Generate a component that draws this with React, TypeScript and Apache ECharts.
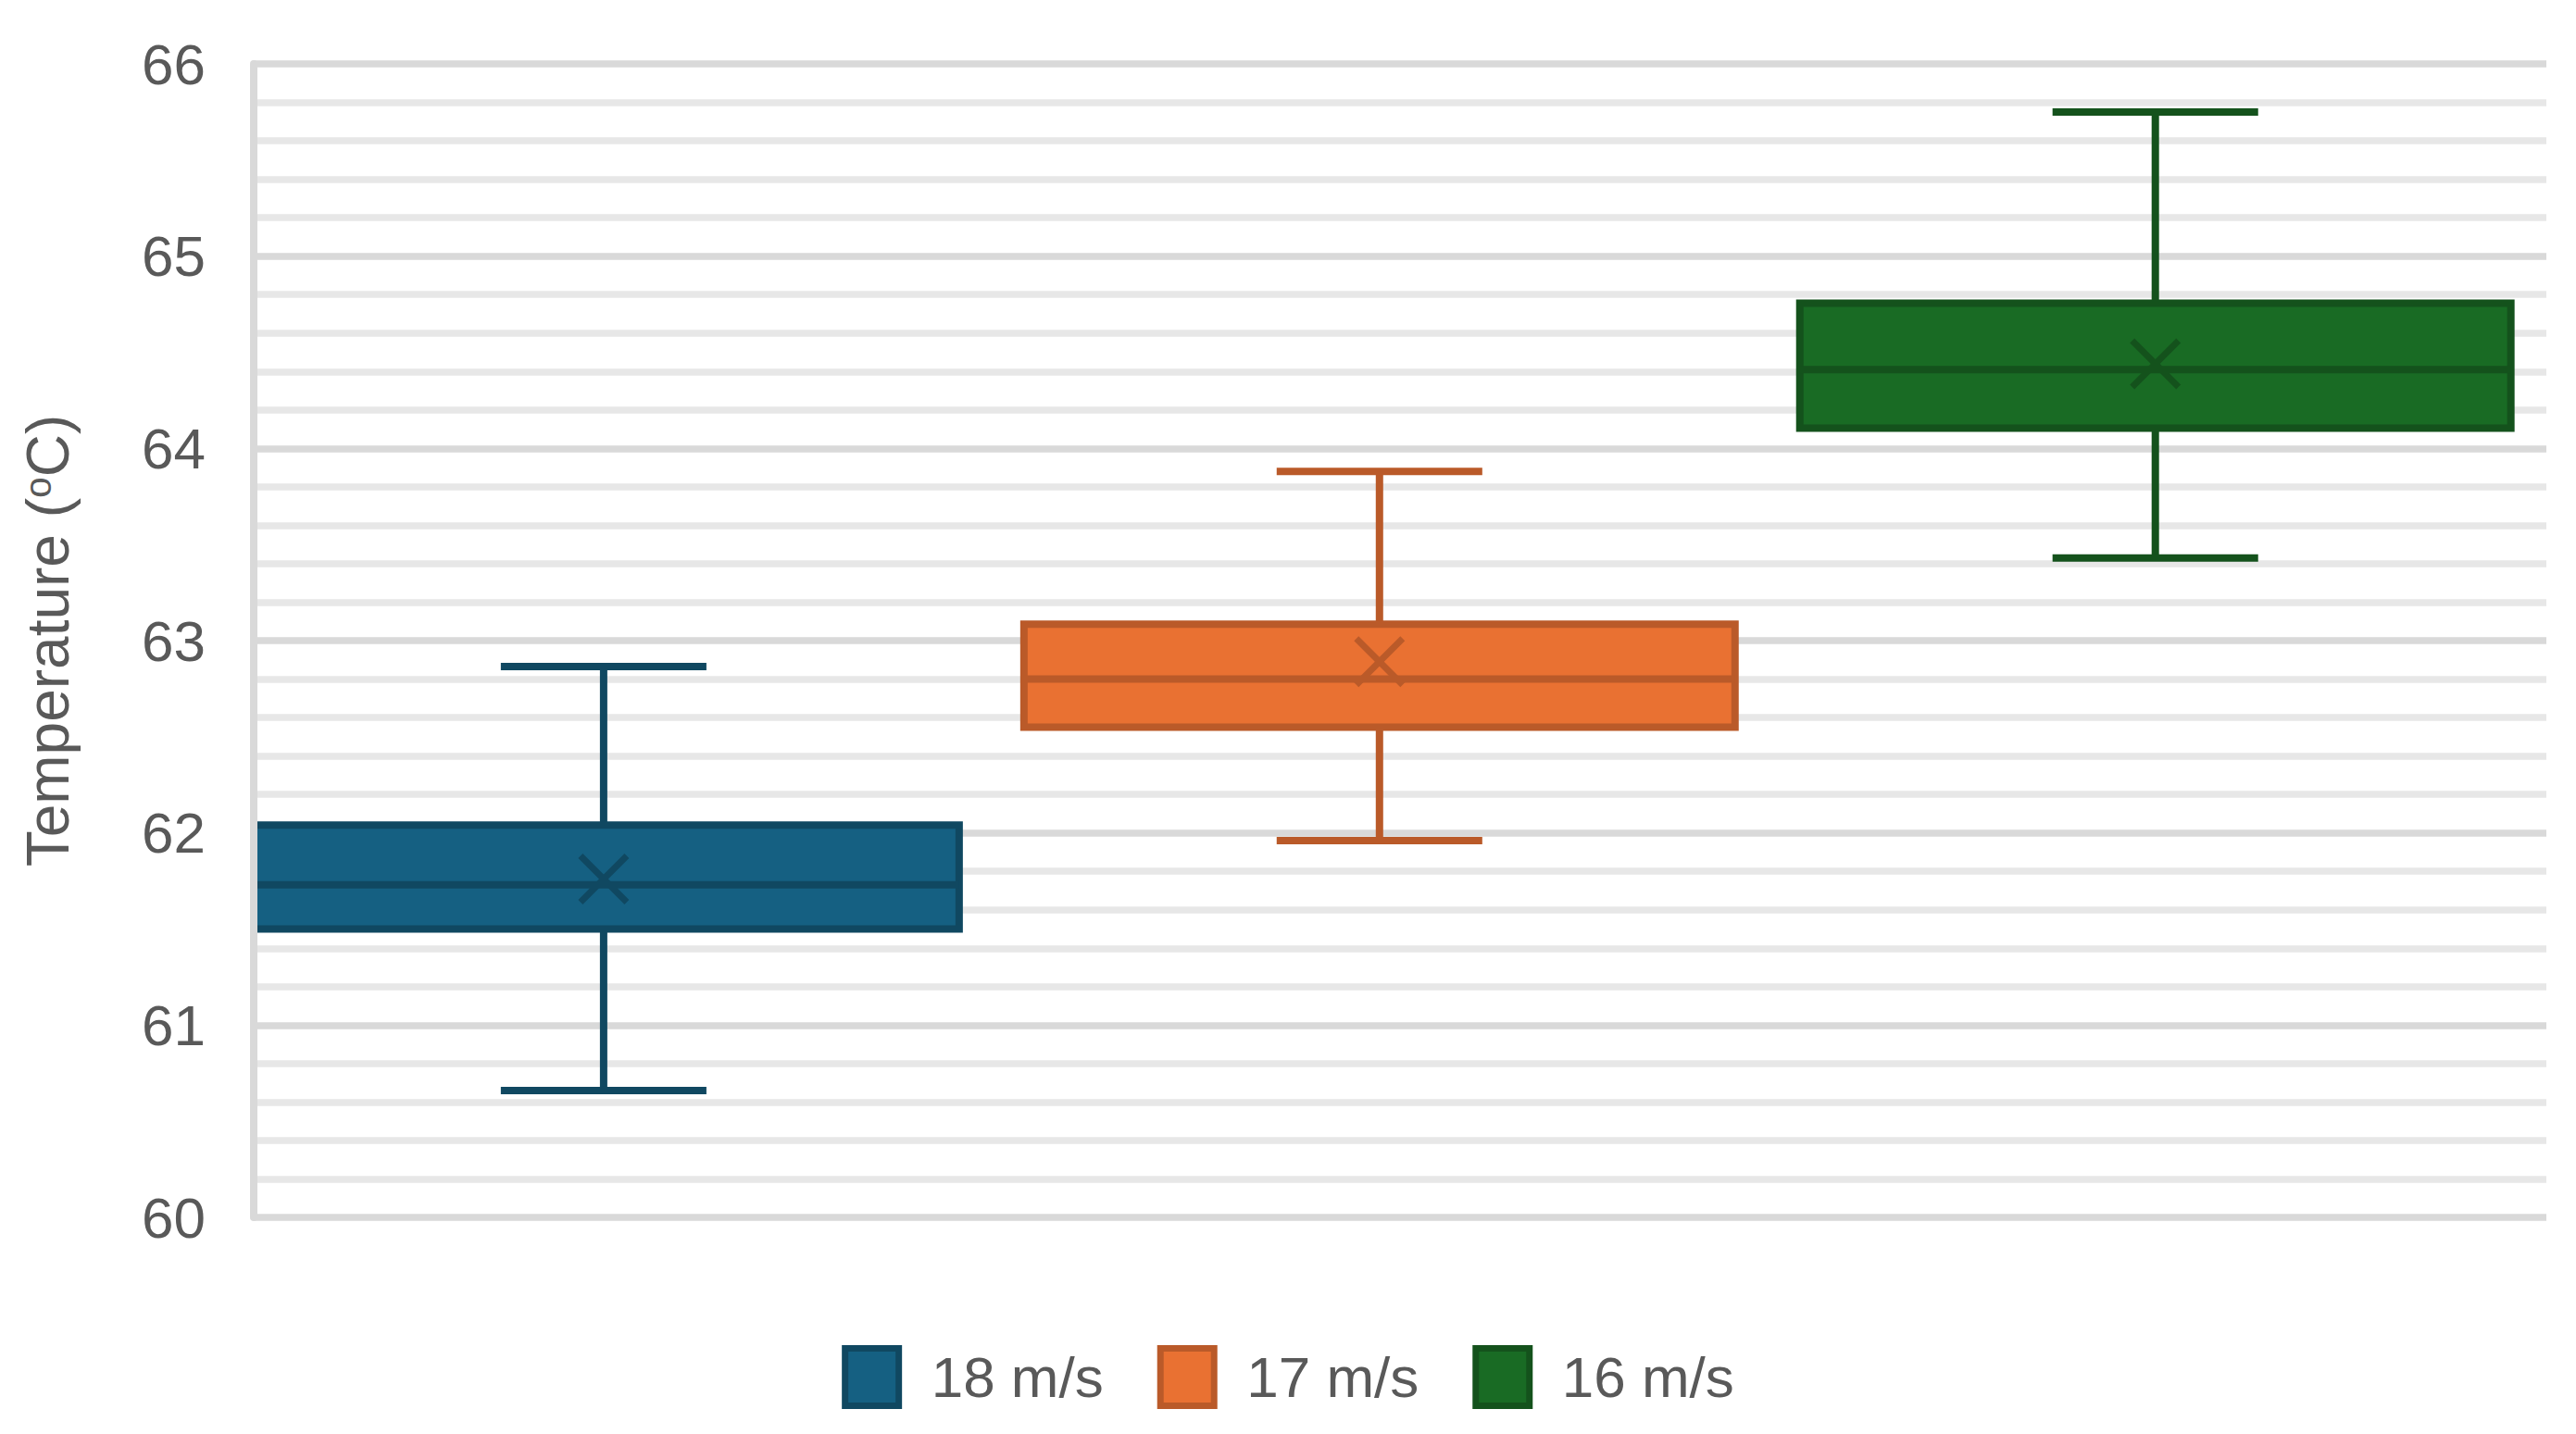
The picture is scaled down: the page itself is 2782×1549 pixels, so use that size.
import React, { useEffect, useRef } from "react";
import * as echarts from "echarts";

const categories = ["18 m/s", "17 m/s", "16 m/s"];
const whiskerMin = [60.66, 61.96, 63.43];
const quartile1 = [61.5, 62.55, 64.105];
const median = [61.73, 62.8, 64.41];
const quartile3 = [62.04, 63.085, 64.755];
const whiskerMax = [62.865, 63.88, 65.75];
const mean = [61.76, 62.89, 64.44];
const yTicks = [60, 61, 62, 63, 64, 65, 66];

const fillColors = ["#156082", "#E97132", "#196B24"];
const strokeColors = ["#104861", "#BA5A29", "#14521C"];

const FONT = "Liberation Sans";
const TEXT = "#595959";

export default function App() {
  const ref = useRef<HTMLDivElement>(null);
  useEffect(() => {
    document.body.style.margin = "0";
    const chart = echarts.init(ref.current!, null, { renderer: "svg" });
    const BOX_W = 0.9165;
    const CAP_W = 0.265;
    const LW = 8;

    const series = categories.map((name, i) => ({
      name,
      type: "custom",
      clip: true,
      itemStyle: { color: fillColors[i], borderColor: strokeColors[i] },
      data: [[i + 1, whiskerMin[i], quartile1[i], median[i], quartile3[i], whiskerMax[i], mean[i]]],
      encode: { x: 0, y: [1, 2, 3, 4, 5, 6] },
      renderItem: (params: any, api: any) => {
        const x = api.value(0);
        const pMin = api.coord([x, api.value(1)]);
        const pQ1 = api.coord([x, api.value(2)]);
        const pMed = api.coord([x, api.value(3)]);
        const pQ3 = api.coord([x, api.value(4)]);
        const pMax = api.coord([x, api.value(5)]);
        const pMean = api.coord([x, api.value(6)]);
        const bw = api.size([BOX_W, 0])[0];
        const cw = api.size([CAP_W, 0])[0];
        const cx = pMed[0];
        const stroke = strokeColors[i];
        const fill = fillColors[i];
        const ls = { stroke, lineWidth: LW, fill: "none" };
        const xs = 25;
        return {
          type: "group",
          children: [
            { type: "line", shape: { x1: cx, y1: pQ3[1], x2: cx, y2: pMax[1] }, style: ls },
            { type: "line", shape: { x1: cx, y1: pQ1[1], x2: cx, y2: pMin[1] }, style: ls },
            { type: "line", shape: { x1: cx - cw / 2, y1: pMax[1], x2: cx + cw / 2, y2: pMax[1] }, style: ls },
            { type: "line", shape: { x1: cx - cw / 2, y1: pMin[1], x2: cx + cw / 2, y2: pMin[1] }, style: ls },
            {
              type: "rect",
              shape: { x: cx - bw / 2, y: pQ3[1], width: bw, height: pQ1[1] - pQ3[1] },
              style: { fill, stroke, lineWidth: LW },
            },
            { type: "line", shape: { x1: cx - bw / 2, y1: pMed[1], x2: cx + bw / 2, y2: pMed[1] }, style: ls },
            { type: "line", shape: { x1: cx - xs, y1: pMean[1] - xs, x2: cx + xs, y2: pMean[1] + xs }, style: { stroke, lineWidth: 7 } },
            { type: "line", shape: { x1: cx - xs, y1: pMean[1] + xs, x2: cx + xs, y2: pMean[1] - xs }, style: { stroke, lineWidth: 7 } },
          ],
        };
      },
    }));

    chart.setOption({
      animation: false,
      backgroundColor: "#ffffff",
      grid: { left: 274, right: 32, top: 69, bottom: 234, containLabel: false },
      xAxis: { type: "value", min: 0.549, max: 3.504, show: false },
      yAxis: [
        {
          type: "value",
          min: yTicks[0],
          max: yTicks[yTicks.length - 1],
          interval: 1,
          name: "{a|Temperature (}{s|o}{a|C)}",
          nameLocation: "middle",
          nameGap: 186,
          nameRotate: 90,
          nameTextStyle: {
            rich: {
              a: { fontSize: 64, fontFamily: FONT, color: TEXT, lineHeight: 72 },
              s: { fontSize: 41, fontFamily: FONT, color: TEXT, lineHeight: 72, padding: [0, 0, 23, 0] },
            },
          },
          axisLine: { show: false },
          axisTick: { show: false },
          axisLabel: { fontSize: 62, fontFamily: FONT, color: TEXT, margin: 52 },
          splitLine: { show: true, lineStyle: { color: "#d9d9d9", width: 7.5 } },
          minorTick: { show: false, splitNumber: 5 },
          minorSplitLine: { show: true, lineStyle: { color: "#e7e7e7", width: 7.5 } },
        },
        {
          type: "value",
          min: yTicks[0],
          max: yTicks[yTicks.length - 1],
          interval: 1,
          position: "left",
          z: 10,
          axisLine: { show: true, lineStyle: { color: "#d9d9d9", width: 8 } },
          axisTick: { show: false },
          axisLabel: { show: false },
          splitLine: { show: false },
        },
      ],
      legend: {
        left: "center",
        top: 1448,
        itemWidth: 58,
        itemHeight: 62,
        itemGap: 58,
        icon: "rect",
        textStyle: { fontSize: 62, fontFamily: FONT, color: TEXT, padding: [0, 0, 0, 30] },
        data: categories.map((name, i) => ({
          name,
          itemStyle: { color: fillColors[i], borderColor: strokeColors[i], borderWidth: 7 },
        })),
      },
      series,
    });
    return () => chart.dispose();
  }, []);
  return <div ref={ref} style={{ width: 2782, height: 1549 }} />;
}
